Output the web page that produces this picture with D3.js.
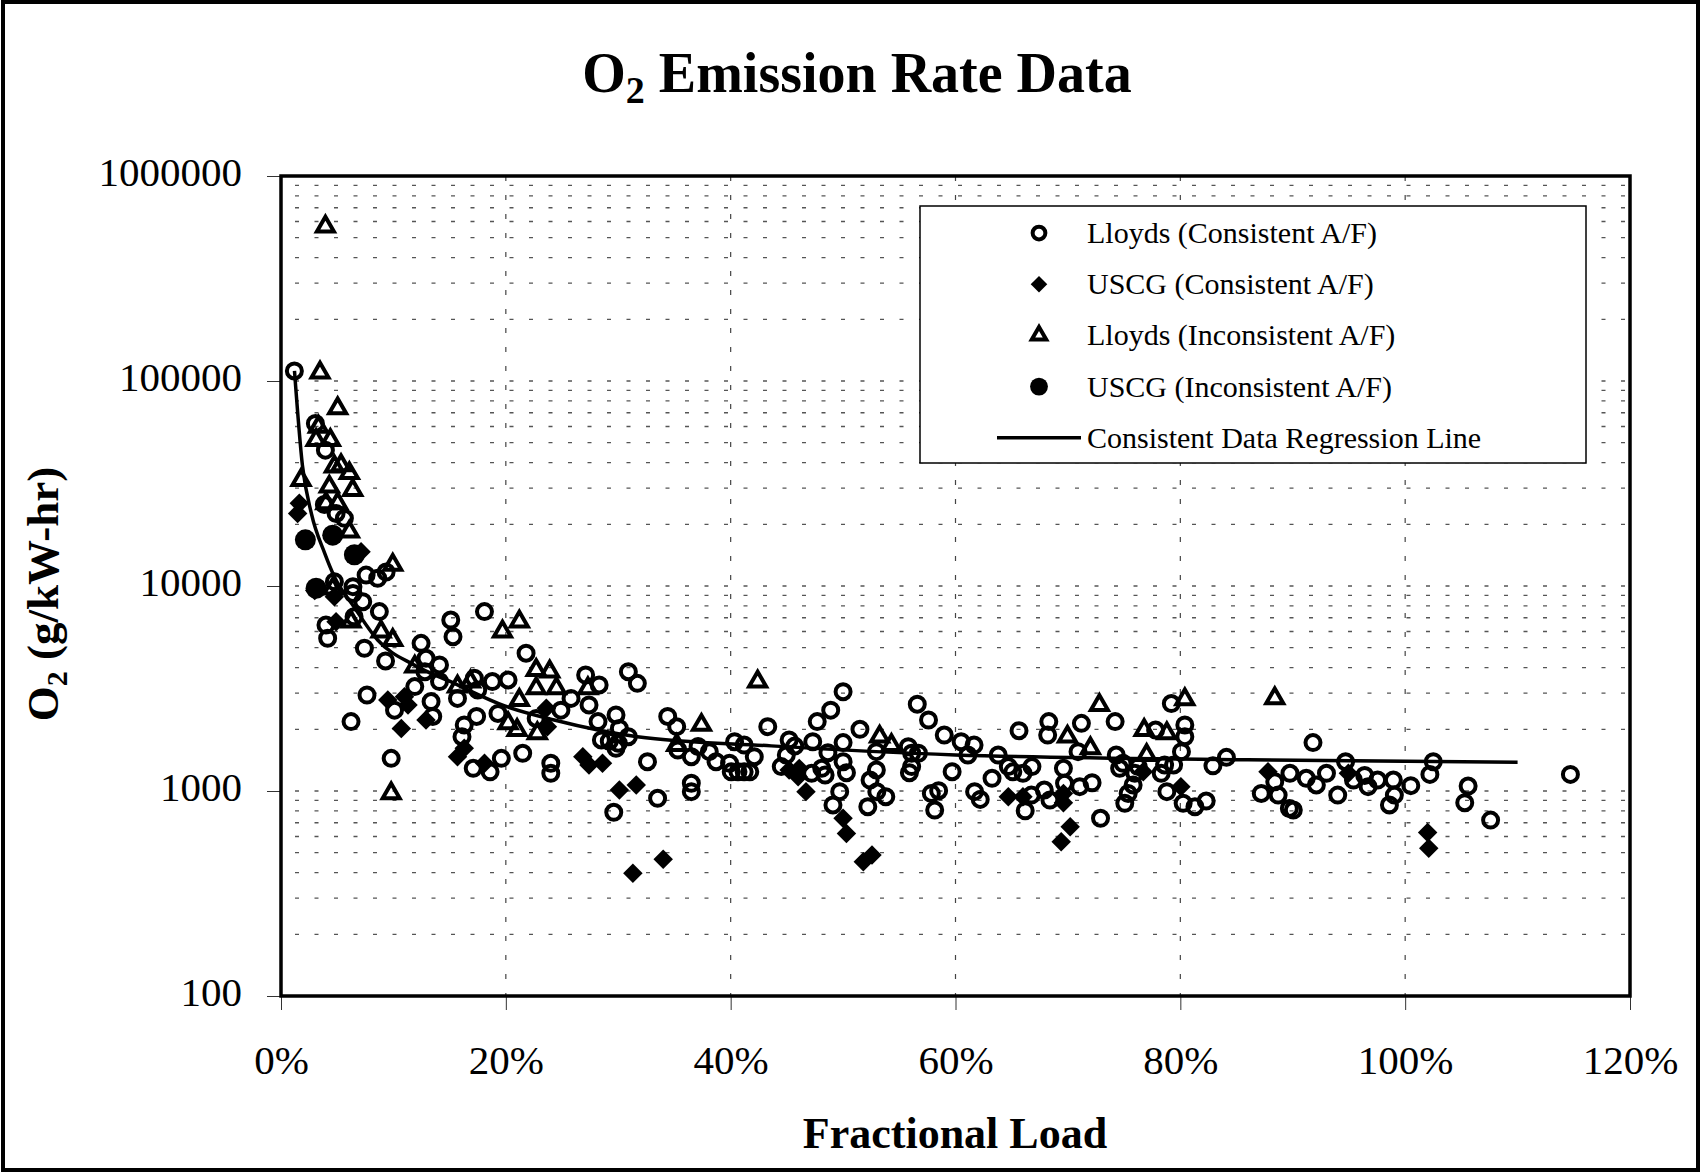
<!DOCTYPE html>
<html>
<head>
<meta charset="utf-8">
<script src="https://cdn.jsdelivr.net/npm/d3@7"></script>
<style>
    body { margin: 0; background: #fff; }
    svg { display: block; font-family: "Liberation Serif", "Times New Roman", serif; }
</style>
</head>
<body>
<svg id="chart"></svg>
<script>
// data: [fractional load in %, O2 in g/kW-hr]
const xTicks = [0, 20, 40, 60, 80, 100, 120]
const yTicks = [100, 1000, 10000, 100000, 1000000]

const lloydsConsistent = [
    [1.19, 112000], [3.06, 62100], [3.95, 46000], [3.86, 25000], [4.9, 22600], [5.64, 21400],
    [4.75, 10500], [7.57, 11300], [8.6, 10900], [9.35, 11700], [6.4, 9930], [6.4, 9200],
    [7.27, 8380], [8.75, 7500], [6.5, 7080], [4.0, 6450], [4.15, 5560], [15.1, 6820],
    [15.3, 5660], [18.1, 7500], [21.8, 4700], [7.42, 4970], [12.46, 5250],
    [27.1, 3680], [28.3, 3290], [27.4, 2630], [28.2, 2180], [29.8, 2350], [30.1, 2020],
    [30.9, 1840], [28.5, 1775], [29.2, 1750], [30.0, 1710], [29.8, 1615], [30.9, 3820],
    [31.7, 3350], [34.4, 2310], [35.2, 2060], [35.3, 1585], [36.5, 1470], [37.1, 1650],
    [38.1, 1556], [38.7, 1390], [39.9, 1365], [40.35, 1740], [41.2, 1675], [42.1, 1470],
    [40.05, 1240], [40.65, 1240], [41.2, 1240], [41.7, 1240], [43.3, 2060], [32.6, 1390],
    [33.5, 921], [36.5, 1090], [36.5, 993], [29.6, 787], [24.0, 1365], [24.0, 1220],
    [21.5, 1527], [25.8, 2830], [24.9, 2480], [22.7, 2260], [20.2, 3480], [19.3, 2390],
    [18.8, 3420], [17.5, 3110], [17.2, 3550], [15.7, 2830], [17.4, 2310], [16.3, 2100],
    [16.1, 1840], [17.1, 1290], [18.6, 1240], [19.6, 1443], [14.1, 4120], [14.1, 3420],
    [12.9, 4440], [12.8, 3820], [11.9, 3230], [13.35, 2730], [13.5, 2310], [10.1, 2480],
    [7.65, 2940], [6.23, 2180], [9.8, 1443], [9.3, 4310],
    [50.0, 3050], [48.9, 2480], [47.7, 2180], [47.3, 1740], [45.2, 1775], [45.7, 1656],
    [44.5, 1315], [44.95, 1497], [47.2, 1220], [48.4, 1197], [48.65, 1538], [48.1, 1290],
    [50.0, 1722], [50.0, 1390], [50.3, 1228], [49.7, 993], [49.1, 855], [51.5, 2000],
    [52.96, 1556], [52.96, 1265], [52.4, 1131], [53.0, 993], [52.2, 838], [53.8, 938],
    [55.8, 1644], [56.1, 1528], [56.7, 1528], [56.1, 1315], [55.9, 1228], [56.6, 2650],
    [57.6, 2220], [59.0, 1875], [60.5, 1740], [61.65, 1675], [61.1, 1497], [59.7, 1242],
    [57.85, 973], [58.5, 1003], [58.15, 807], [61.7, 993], [62.2, 910], [63.25, 1153],
    [63.8, 1497], [64.7, 1315], [65.1, 1240], [65.65, 1968], [66.0, 1220], [66.8, 1315],
    [66.2, 801], [66.75, 955], [67.9, 1011], [68.3, 2180], [68.2, 1875], [68.4, 903],
    [69.6, 1290], [69.7, 1090], [71.05, 1050], [72.15, 1097], [71.2, 2138], [70.9, 1556],
    [74.2, 2180], [72.9, 736], [74.3, 1497], [74.9, 1365], [74.6, 1290], [75.06, 871],
    [75.36, 973], [75.8, 1070], [75.95, 1220], [76.25, 1315], [77.8, 1983], [78.3, 1220],
    [78.6, 1340], [78.8, 993], [79.4, 1340], [79.2, 2670], [80.4, 2100], [80.4, 1840],
    [80.1, 1556], [80.25, 871], [81.3, 838], [82.3, 893], [82.9, 1327], [84.1, 1459],
    [88.4, 1110], [87.2, 973], [88.7, 955], [89.7, 822], [90.05, 807], [89.75, 1220],
    [91.8, 1722], [91.2, 1153], [92.1, 1070], [93.0, 1220], [94.0, 955], [94.7, 1390],
    [95.4, 1131], [96.4, 1190], [96.7, 1050], [97.55, 1131], [98.95, 1131], [99.04, 955],
    [98.6, 855], [100.5, 1062], [102.5, 1390], [102.2, 1205], [105.6, 1057], [105.3, 877],
    [107.6, 721], [114.7, 1205]
]

const uscgConsistent = [
    [1.63, 25300], [1.48, 22600], [7.12, 14700], [3.0, 9500], [4.75, 8870], [4.9, 6700],
    [23.6, 2530], [23.7, 2060], [26.85, 1470], [27.4, 1340], [28.6, 1365], [30.1, 1012],
    [31.6, 1070], [31.3, 397], [34.0, 464], [16.3, 1615], [15.7, 1470], [18.1, 1365],
    [12.9, 2220], [11.3, 2630], [9.5, 2780], [10.98, 2880], [10.7, 2020],
    [45.2, 1265], [46.1, 1289], [46.0, 1175], [46.7, 993], [50.0, 736], [50.3, 621],
    [51.8, 452], [52.57, 487], [64.7, 938], [66.0, 938], [69.6, 973], [69.6, 877],
    [70.2, 670], [69.4, 566], [76.7, 1242], [80.05, 1050], [87.8, 1242], [94.95, 1220],
    [102.0, 627], [102.1, 525]
]

const lloydsInconsistent = [
    [3.95, 566000], [3.47, 110000], [5.04, 73600], [3.33, 59800], [3.12, 51500], [4.39, 51500],
    [1.78, 32900], [4.75, 38200], [5.34, 38800], [6.08, 35500], [4.3, 30500], [6.38, 29400],
    [4.0, 25300], [5.04, 25300], [6.08, 18400], [9.94, 12700], [4.6, 9700], [6.23, 6700],
    [8.9, 5990], [9.94, 5450], [19.7, 5990], [21.2, 6700], [22.7, 3890], [23.9, 3820],
    [22.7, 3170], [24.5, 3170], [21.2, 2780], [20.2, 2140], [21.0, 1980], [22.8, 1910],
    [27.3, 3170], [42.4, 3420], [37.4, 2100], [35.2, 1675], [15.7, 3230], [16.85, 3420],
    [11.9, 4040], [9.8, 975], [53.25, 1840], [54.3, 1675], [69.96, 1840], [72.0, 1615],
    [72.8, 2625], [76.78, 1983], [78.8, 1910], [77.0, 1497], [80.4, 2800], [88.4, 2830]
]

const uscgInconsistent = [
    [2.17, 16800], [4.6, 17700], [6.53, 14200], [3.12, 9750]
]

const regressionLine = [
    [1.2, 112000], [1.9, 39000], [2.7, 22600], [3.9, 14400], [4.75, 11100], [6.5, 7900],
    [8.6, 5450], [11.9, 4100], [15.4, 3350], [19.9, 2600], [24.3, 2220], [31.7, 1840],
    [43.6, 1660], [60, 1500], [86, 1420], [110, 1380]
]

const legendLabels = [
    'Lloyds (Consistent A/F)',
    'USCG (Consistent A/F)',
    'Lloyds (Inconsistent A/F)',
    'USCG (Inconsistent A/F)',
    'Consistent Data Regression Line'
]

//constants
const w = 1701
const h = 1172
const padLeft = 281
const padRight = 1630
const padTop = 176
const padBottom = 996
const serif = '"Liberation Serif", "Times New Roman", serif'

const svg = d3.select('#chart').attr('width', w).attr('height', h)

//outer frame
svg.append('rect')
    .attr('x', 3).attr('y', 2)
    .attr('width', w - 6).attr('height', h - 4)
    .attr('fill', '#fff')
    .attr('stroke', '#000')
    .attr('stroke-width', 4)

//scales
const xScale = d3.scaleLinear().domain([0, 120]).range([padLeft, padRight])
const yScale = d3.scaleLog().domain([100, 1000000]).range([padBottom, padTop])

//gridlines
svg.append('g')
    .selectAll('line')
    .data(yScale.ticks())
    .enter()
    .append('line')
    .attr('x1', padLeft).attr('x2', padRight)
    .attr('y1', d => yScale(d)).attr('y2', d => yScale(d))
    .attr('stroke', '#555')
    .attr('stroke-width', 1.3)
    .attr('stroke-dasharray', '4,15.5')
    .attr('stroke-dashoffset', -14)

svg.append('g')
    .selectAll('line')
    .data(xTicks.slice(1, -1))
    .enter()
    .append('line')
    .attr('x1', d => xScale(d)).attr('x2', d => xScale(d))
    .attr('y1', padTop).attr('y2', padBottom)
    .attr('stroke', '#444')
    .attr('stroke-width', 1.2)
    .attr('stroke-dasharray', '5,14')

//axes
const xAxis = d3.axisBottom(xScale)
    .tickValues(xTicks)
    .tickSize(14)
    .tickPadding(35)
    .tickFormat(d => d + '%')
const gx = svg.append('g')
    .attr('transform', 'translate(0,' + padBottom + ')')
    .call(xAxis)
    .attr('font-family', serif)
    .attr('font-size', 41)
gx.select('.domain').remove()
gx.selectAll('line').attr('stroke', '#333')
gx.selectAll('text').attr('fill', '#000')

const yAxis = d3.axisLeft(yScale)
    .tickValues(yTicks)
    .tickSize(14)
    .tickPadding(25)
    .tickFormat(d3.format('d'))
const gy = svg.append('g')
    .attr('transform', 'translate(' + padLeft + ',0)')
    .call(yAxis)
    .attr('font-family', serif)
    .attr('font-size', 41)
gy.select('.domain').remove()
gy.selectAll('line').attr('stroke', '#333')
gy.selectAll('text').attr('fill', '#000').attr('dy', '0.24em')

//plot border
svg.append('rect')
    .attr('x', padLeft).attr('y', padTop)
    .attr('width', padRight - padLeft).attr('height', padBottom - padTop)
    .attr('fill', 'none')
    .attr('stroke', '#000')
    .attr('stroke-width', 3.5)

//markers (k scales the symbol, legend uses a smaller one)
const markers = [
    (g, k) => g.append('circle').attr('r', 7.5 * k).attr('fill', 'none').attr('stroke', '#000').attr('stroke-width', 4),
    (g, k) => g.append('path').attr('d', d3.symbol(d3.symbolSquare, 190 * k * k)()).attr('transform', 'rotate(45)').attr('fill', '#000'),
    (g, k) => g.append('path').attr('d', d3.symbol(d3.symbolTriangle, 125 * k * k)()).attr('fill', 'none').attr('stroke', '#000').attr('stroke-width', 4),
    (g, k) => g.append('circle').attr('r', 10.5 * k).attr('fill', '#000')
]

const series = [lloydsConsistent, uscgConsistent, lloydsInconsistent, uscgInconsistent]
const plotArea = svg.append('g')
series.forEach((data, i) => {
    plotArea.append('g')
        .selectAll('g')
        .data(data)
        .enter()
        .append('g')
        .attr('transform', d => 'translate(' + xScale(d[0]) + ',' + yScale(d[1]) + ')')
        .each(function () { markers[i](d3.select(this), 1) })
})

//regression line
const line = d3.line()
    .x(d => xScale(d[0]))
    .y(d => yScale(d[1]))
    .curve(d3.curveMonotoneX)
svg.append('path')
    .datum(regressionLine)
    .attr('d', line)
    .attr('fill', 'none')
    .attr('stroke', '#000')
    .attr('stroke-width', 3.5)

//legend
const legend = svg.append('g')
legend.append('rect')
    .attr('x', 920).attr('y', 206)
    .attr('width', 666).attr('height', 257)
    .attr('fill', '#fff')
    .attr('stroke', '#000')
    .attr('stroke-width', 1.5)

legendLabels.forEach((label, i) => {
    const ly = 233 + i * 51.2
    const item = legend.append('g').attr('transform', 'translate(1039,' + ly + ')')
    if (i < 4) {
        markers[i](item, 0.85)
    } else {
        legend.append('line')
            .attr('x1', 997).attr('x2', 1081)
            .attr('y1', ly).attr('y2', ly)
            .attr('stroke', '#000')
            .attr('stroke-width', 3.5)
    }
    legend.append('text')
        .attr('x', 1087)
        .attr('y', ly)
        .attr('dy', '0.33em')
        .style('font-size', '30px')
        .text(label)
})

//title
const title = svg.append('text')
    .attr('x', 857)
    .attr('y', 92)
    .attr('text-anchor', 'middle')
    .style('font-size', '56px')
    .style('font-weight', 'bold')
title.append('tspan').text('O')
title.append('tspan').attr('dy', 11).style('font-size', '38px').text('2')
title.append('tspan').attr('dy', -11).text(' Emission Rate Data')

//labels
svg.append('text')
    .attr('x', 955)
    .attr('y', 1148)
    .attr('text-anchor', 'middle')
    .style('font-size', '44px')
    .style('font-weight', 'bold')
    .text('Fractional Load')

const yLabel = svg.append('text')
    .attr('transform', 'translate(58,594) rotate(-90)')
    .attr('text-anchor', 'middle')
    .style('font-size', '45px')
    .style('font-weight', 'bold')
yLabel.append('tspan').text('O')
yLabel.append('tspan').attr('dy', 9).style('font-size', '30px').text('2')
yLabel.append('tspan').attr('dy', -9).text(' (g/kW-hr)')
</script>
</body>
</html>
